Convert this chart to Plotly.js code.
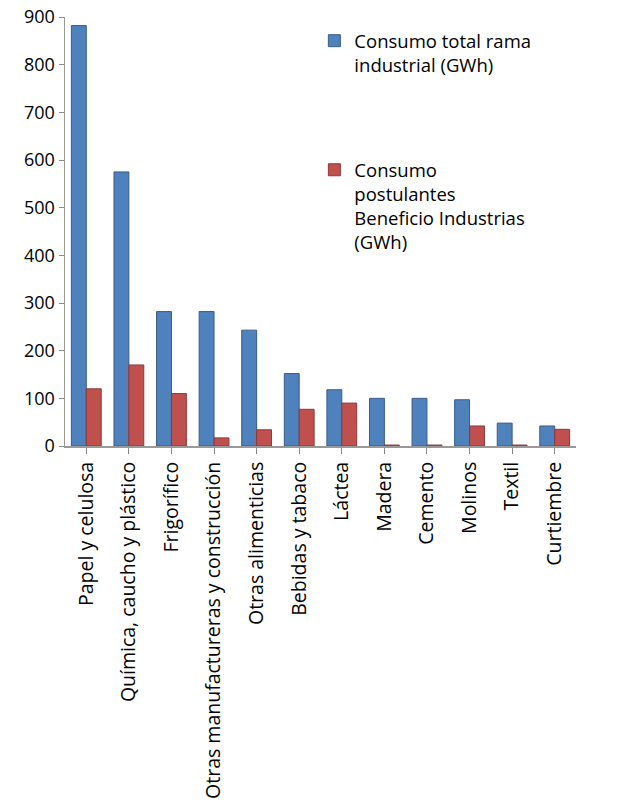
<!DOCTYPE html>
<html>
<head>
<meta charset="utf-8">
<script src="https://cdn.plot.ly/plotly-3.0.1.min.js"></script>
<style>html,body{margin:0;padding:0;background:#fff;}#chart{width:638px;height:802px;}</style>
</head>
<body>
<div id="chart"></div>
<script>
const categories = ["Papel y celulosa", "Química, caucho y plástico", "Frigorífico", "Otras manufactureras y construcción", "Otras alimenticias", "Bebidas y tabaco", "Láctea", "Madera", "Cemento", "Molinos", "Textil", "Curtiembre"];
const consumoTotal = [882, 575, 282, 282, 243, 152, 118, 100, 100, 97, 48, 42];
const consumoPostulantes = [120, 170, 110, 17, 34, 77, 90, 2, 2, 42, 2, 35];
const seriesNames = ["Consumo total rama<br>industrial (GWh)", "Consumo<br>postulantes<br>Beneficio Industrias<br>(GWh)"];
const yTicks = [0, 100, 200, 300, 400, 500, 600, 700, 800, 900];

const font = "Open Sans, sans-serif";
const traces = [
  {type: "bar", name: seriesNames[0], x: categories, y: consumoTotal, legendgroup: "a",
   marker: {color: "#4F81BD", line: {color: "#385D8A", width: 1}}},
  {type: "bar", name: seriesNames[1], x: categories, y: consumoPostulantes, legendgroup: "b",
   marker: {color: "#C0504D", line: {color: "#8C3836", width: 1}}}
];
const layout = {
  width: 638, height: 802,
  margin: {l: 65, r: 62, t: 17, b: 356},
  paper_bgcolor: "#fff", plot_bgcolor: "#fff",
  font: {family: font, size: 18, color: "#000"},
  barmode: "group", bargap: 0.3, bargroupgap: 0,
  showlegend: true,
  legend: {x: 0.488, y: 0.988, xanchor: "left", yanchor: "top", valign: "top",
           tracegroupgap: 78, itemwidth: 30, font: {family: font, size: 18.5, color: "#000"},
           bgcolor: "rgba(0,0,0,0)"},
  xaxis: {type: "category", tickangle: -90, ticks: "outside", ticklen: 6, tickcolor: "#888",
          showline: true, linecolor: "#999", linewidth: 2, showgrid: false,
          tickfont: {family: font, size: 19.5}},
  yaxis: {range: [0, 900], tickvals: yTicks, ticks: "outside", ticklen: 5, tickcolor: "#888",
          showline: true, linecolor: "#999", linewidth: 1.5, showgrid: false, zeroline: false,
          tickfont: {family: font, size: 18}}
};
Plotly.newPlot("chart", traces, layout, {displayModeBar: false, staticPlot: true});
</script>
</body>
</html>
